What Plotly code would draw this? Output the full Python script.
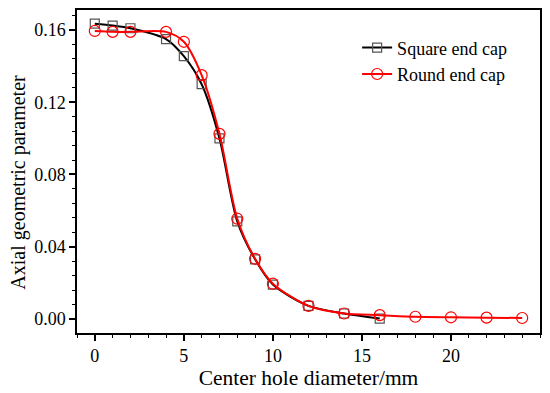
import plotly.graph_objects as go

sq_x = [0, 1, 2, 4, 5, 6, 7, 8, 9, 10, 12, 14, 16]
sq_y = [0.1635, 0.1625, 0.161, 0.155, 0.1455, 0.130, 0.100, 0.054, 0.033, 0.019, 0.0072, 0.003, 0.0002]
rd_x = [0, 1, 2, 4, 5, 6, 7, 8, 9, 10, 12, 14, 16, 18, 20, 22, 24]
rd_y = [0.1595, 0.159, 0.159, 0.159, 0.1535, 0.135, 0.1025, 0.0555, 0.0333, 0.0195, 0.0072, 0.003, 0.0021, 0.0012, 0.0009, 0.0007, 0.0005]
x_ticks = [0, 5, 10, 15, 20]
y_ticks = [0.00, 0.04, 0.08, 0.12, 0.16]

font = "Liberation Serif"
fig = go.Figure()
fig.add_trace(go.Scatter(x=sq_x, y=sq_y, name="Square end cap", mode="lines+markers",
                         line=dict(color="black", width=2, shape="spline", smoothing=0.8),
                         marker=dict(symbol="square-open", size=9, color="#555555", line=dict(width=1.2))))
fig.add_trace(go.Scatter(x=rd_x, y=rd_y, name="Round end cap", mode="lines+markers",
                         line=dict(color="red", width=2, shape="spline", smoothing=0.8),
                         marker=dict(symbol="circle-open", size=11, color="red", line=dict(width=1.2))))

axis_common = dict(showline=True, linecolor="black", linewidth=1.5, mirror=True,
                   ticks="outside", ticklen=6, tickwidth=1.5, tickcolor="black",
                   showgrid=False, zeroline=False, automargin=False,
                   tickfont=dict(family=font, size=18, color="black"))
fig.update_xaxes(range=[-1, 25], tickvals=x_ticks, ticktext=[str(v) for v in x_ticks],
                 minor=dict(dtick=1, tick0=0, ticks="outside", ticklen=3.5, tickwidth=1.2, tickcolor="black"),
                 title=dict(text="Center hole diameter/mm", font=dict(family=font, size=21.5, color="black"), standoff=5),
                 **axis_common)
fig.update_yaxes(range=[-0.0078, 0.1711], tickvals=y_ticks, ticktext=[f"{v:.2f}" for v in y_ticks],
                 minor=dict(dtick=0.008, tick0=0, ticks="outside", ticklen=3.5, tickwidth=1.2, tickcolor="black"),
                 **axis_common)
fig.add_annotation(text="Axial geometric parameter", textangle=-90, xref="paper", yref="paper",
                   x=-0.126, y=0.4675, xanchor="center", yanchor="middle", showarrow=False,
                   font=dict(family=font, size=20, color="black"))
# page body has an 8px margin; compensate so the plot lands where the reference has it
fig.update_layout(width=542, height=385, margin=dict(l=69, r=10, t=2, b=60),
                  plot_bgcolor="white", paper_bgcolor="white",
                  font=dict(family=font, color="black"),
                  showlegend=True,
                  legend=dict(x=0.605, y=0.94, xanchor="left", yanchor="top", bgcolor="rgba(0,0,0,0)",
                              font=dict(family=font, size=18, color="black"), tracegroupgap=0))
fig.write_html("out.html")
